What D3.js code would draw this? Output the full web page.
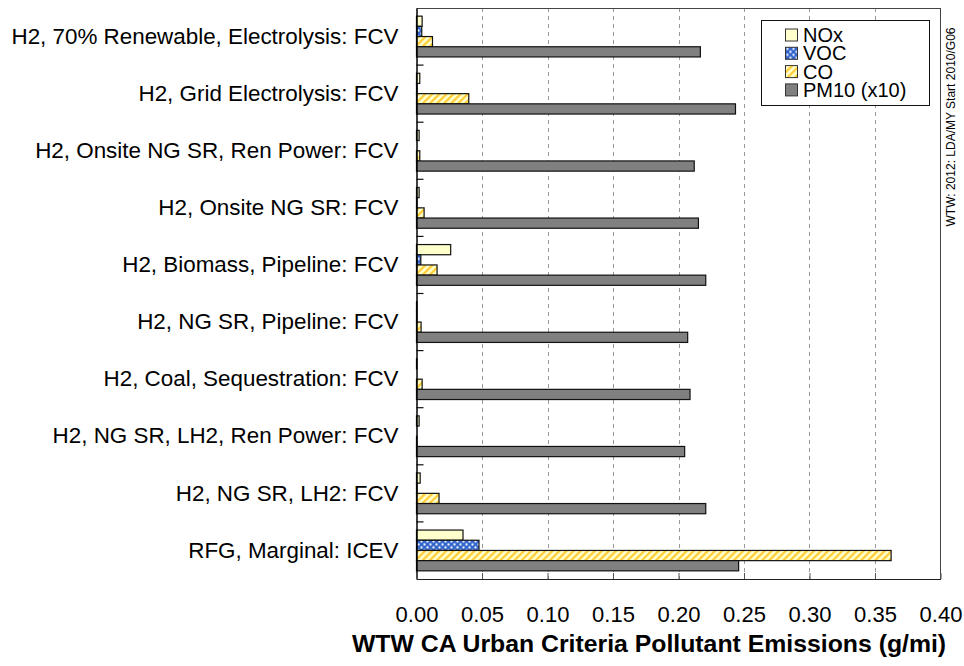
<!DOCTYPE html>
<html>
<head>
<meta charset="utf-8">
<script src="https://cdn.jsdelivr.net/npm/d3@7"></script>
<style>
  html, body { margin: 0; padding: 0; background: #fff; }
  svg { display: block; font-family: "Liberation Sans", Arial, sans-serif; }
</style>
</head>
<body>
<svg id="chart" width="964" height="666"></svg>
<script>
// ---- data ----
const categories = [
  "H2, 70% Renewable, Electrolysis: FCV",
  "H2, Grid Electrolysis: FCV",
  "H2, Onsite NG SR, Ren Power: FCV",
  "H2, Onsite NG SR: FCV",
  "H2, Biomass, Pipeline: FCV",
  "H2, NG SR, Pipeline: FCV",
  "H2, Coal, Sequestration: FCV",
  "H2, NG SR, LH2, Ren Power: FCV",
  "H2, NG SR, LH2: FCV",
  "RFG, Marginal: ICEV"
];
const seriesNames = ["NOx", "VOC", "CO", "PM10 (x10)"];
const noxValues  = [0.0043, 0.0025, 0.0020, 0.0020, 0.0261, 0.0003, 0.0003, 0.0020, 0.0028, 0.0355];
const vocValues  = [0.0040, 0.0003, 0.0000, 0.0003, 0.0033, 0.0003, 0.0000, 0.0000, 0.0003, 0.0477];
const coValues   = [0.0122, 0.0399, 0.0025, 0.0058, 0.0157, 0.0035, 0.0043, 0.0003, 0.0172, 0.3623];
const pm10Values = [0.2167, 0.2435, 0.2120, 0.2152, 0.2208, 0.2070, 0.2088, 0.2047, 0.2208, 0.2459];
const xTicks = [0, 0.05, 0.10, 0.15, 0.20, 0.25, 0.30, 0.35, 0.40];
const xTitle = "WTW CA Urban Criteria Pollutant Emissions (g/mi)";
const sideNote = "WTW: 2012: LDA/MY Start 2010/G06";

const seriesValues = [noxValues, vocValues, coValues, pm10Values];

// ---- layout ----
const plot = { left: 416.5, right: 940.5, top: 8, bottom: 579 };
const svg = d3.select("#chart");

// patterns
const defs = svg.append("defs");
const pv = defs.append("pattern").attr("id", "pVOC").attr("patternUnits", "userSpaceOnUse")
  .attr("width", 6).attr("height", 6);
pv.append("rect").attr("width", 6).attr("height", 6).attr("fill", "#3366cc");
pv.append("rect").attr("x", 0.5).attr("y", 0.5).attr("width", 2).attr("height", 2).attr("fill", "#ffffff");
pv.append("rect").attr("x", 3.5).attr("y", 3.5).attr("width", 2).attr("height", 2).attr("fill", "#ffffff");
const pc = defs.append("pattern").attr("id", "pCO").attr("patternUnits", "userSpaceOnUse")
  .attr("width", 5).attr("height", 5).attr("patternTransform", "rotate(45)");
pc.append("rect").attr("width", 5).attr("height", 5).attr("fill", "#ffffcc");
pc.append("rect").attr("width", 2.2).attr("height", 5).attr("fill", "#ffcc33");

const fills = ["#ffffcc", "url(#pVOC)", "url(#pCO)", "#808080"];

// scales
const x = d3.scaleLinear().domain([0, 0.4]).range([plot.left, plot.right]);
const y0 = d3.scaleBand().domain(categories).range([plot.top, plot.bottom]).padding(0);
const y1 = d3.scaleBand().domain(seriesNames).range([0, y0.bandwidth()]).paddingInner(0).paddingOuter(0.8);

// gridlines
svg.append("g").selectAll("line").data(xTicks.filter(t => t > 0 && t < 0.4)).join("line")
  .attr("x1", d => Math.round(x(d)) + 0.5).attr("x2", d => Math.round(x(d)) + 0.5)
  .attr("y1", plot.top).attr("y2", plot.bottom)
  .attr("stroke", "#999").attr("stroke-width", 1).attr("stroke-dasharray", "4,4");

// frame top & right
svg.append("line").attr("x1", plot.left).attr("x2", plot.right).attr("y1", plot.top + 0.5).attr("y2", plot.top + 0.5)
  .attr("stroke", "#444").attr("stroke-width", 1);
svg.append("line").attr("x1", plot.right).attr("x2", plot.right).attr("y1", plot.top).attr("y2", plot.bottom)
  .attr("stroke", "#444").attr("stroke-width", 1);

// bars
const groups = svg.append("g").selectAll("g").data(categories).join("g")
  .attr("transform", d => `translate(0,${y0(d)})`);
groups.selectAll("rect").data((d, i) => seriesNames.map((s, j) => ({ s, j, v: seriesValues[j][i] })))
  .join("rect")
  .attr("x", x(0))
  .attr("y", d => y1(d.s))
  .attr("width", d => Math.max(0, x(d.v) - x(0)))
  .attr("height", y1.bandwidth())
  .attr("fill", d => fills[d.j])
  .attr("stroke", "#111")
  .attr("stroke-width", 1.2);

// left boundary ticks
svg.append("g").selectAll("line").data(categories.slice(1)).join("line")
  .attr("x1", plot.left).attr("x2", plot.left + 7)
  .attr("y1", d => y0(d)).attr("y2", d => y0(d))
  .attr("stroke", "#111").attr("stroke-width", 1.2);

// left axis labels
const yAxis = svg.append("g").attr("transform", `translate(${plot.left},0)`)
  .call(d3.axisLeft(y0).tickSize(0).tickPadding(18));
yAxis.select(".domain").attr("stroke", "#000").attr("stroke-width", 1.5);
yAxis.selectAll("text").attr("font-size", 22.4).attr("fill", "#000")
  .attr("font-family", "'Liberation Sans', Arial, sans-serif");

// bottom axis
const xAxis = svg.append("g").attr("transform", `translate(0,${plot.bottom})`)
  .call(d3.axisBottom(x).tickValues(xTicks).tickFormat(d3.format(".2f")).tickSizeInner(-6).tickSizeOuter(0).tickPadding(27));
xAxis.select(".domain").attr("stroke", "#222").attr("stroke-width", 1.2);
xAxis.selectAll(".tick line").attr("stroke", "#555");
xAxis.selectAll("text").attr("font-size", 22).attr("fill", "#000")
  .attr("font-family", "'Liberation Sans', Arial, sans-serif");

// axis title
svg.append("text").attr("x", 649).attr("y", 652).attr("text-anchor", "middle")
  .attr("font-size", 24.8).attr("font-weight", "bold").attr("fill", "#000").text(xTitle);

// legend
const lg = svg.append("g");
lg.append("rect").attr("x", 761.5).attr("y", 20.5).attr("width", 168).attr("height", 85)
  .attr("fill", "#fff").attr("stroke", "#111").attr("stroke-width", 1);
const li = lg.selectAll("g").data(seriesNames).join("g")
  .attr("transform", (d, i) => `translate(0,${35 + i * 18.3})`);
li.append("rect").attr("x", 785.5).attr("y", -6).attr("width", 12).attr("height", 12)
  .attr("fill", (d, i) => fills[i]).attr("stroke", "#333").attr("stroke-width", 1);
li.append("text").attr("x", 803).attr("y", 7).attr("font-size", 20).attr("fill", "#000").text(d => d);

// side note
svg.append("text").attr("transform", "translate(951,127) rotate(-90)")
  .attr("text-anchor", "middle").attr("dominant-baseline", "central")
  .attr("font-size", 12).attr("fill", "#000").text(sideNote);
</script>
</body>
</html>
